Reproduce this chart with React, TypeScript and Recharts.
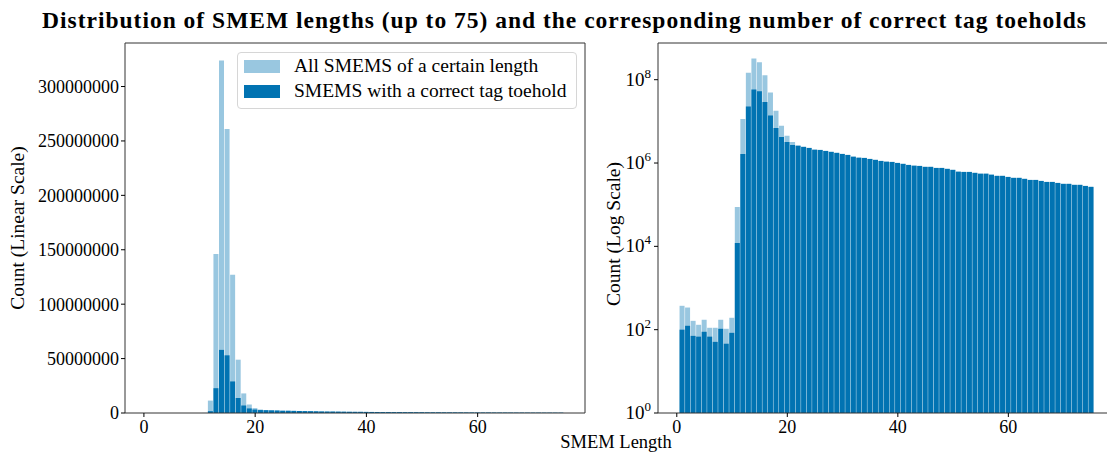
import React from "react";
import { ComposedChart, Bar, XAxis, YAxis, Legend } from "recharts";

// SMEM length (x)
const smemLengths = [
  1, 2, 3, 4, 5, 6, 7, 8, 9, 10, 11, 12, 13, 14, 15, 16, 17, 18, 19, 20,
  21, 22, 23, 24, 25, 26, 27, 28, 29, 30, 31, 32, 33, 34, 35, 36, 37, 38, 39, 40,
  41, 42, 43, 44, 45, 46, 47, 48, 49, 50, 51, 52, 53, 54, 55, 56, 57, 58, 59, 60,
  61, 62, 63, 64, 65, 66, 67, 68, 69, 70, 71, 72, 73, 74, 75,
];

// all SMEMs of a given length
const allSmems = [
  374, 340, 163, 131, 173, 111, 111, 173, 105, 193,
  88500, 11400000, 146000000, 324000000, 261000000, 127000000, 49000000, 18000000, 7800000, 4500000,
  3200000, 2700000, 2480000, 2340000, 2180000, 2090000, 1980000, 1880000, 1780000, 1680000,
  1590000, 1480000, 1400000, 1340000, 1270000, 1210000, 1140000, 1120000, 1080000, 1020000,
  970000, 915000, 900000, 865000, 820000, 820000, 775000, 775000, 735000, 695000,
  645000, 620000, 620000, 590000, 560000, 560000, 530000, 500000, 500000, 470000,
  450000, 450000, 423000, 398000, 398000, 377000, 357000, 357000, 337000, 321000,
  321000, 304000, 304000, 286000, 272000,
];

// SMEMs with a correct tag toehold
const tagToehold = [
  100, 124, 71, 68, 89, 68, 51, 105, 46, 84,
  12100, 1650000, 22800000, 58000000, 53000000, 29000000, 13800000, 6900000, 4200000, 3200000,
  2700000, 2570000, 2430000, 2300000, 2060000, 2060000, 1950000, 1850000, 1750000, 1650000,
  1560000, 1400000, 1320000, 1320000, 1250000, 1190000, 1120000, 1060000, 1060000, 1000000,
  950000, 900000, 850000, 850000, 805000, 805000, 760000, 760000, 720000, 680000,
  610000, 610000, 610000, 580000, 550000, 550000, 520000, 490000, 490000, 460000,
  440000, 440000, 415000, 390000, 390000, 370000, 350000, 350000, 330000, 315000,
  315000, 298000, 298000, 280000, 267000,
];

const xTicks = [0, 20, 40, 60];
const linearTicks = [0, 50000000, 100000000, 150000000, 200000000, 250000000, 300000000];
const logTicks = [1, 100, 10000, 1000000, 100000000];

const LIGHT = "#99c7e0";
const DARK = "#0173b2";
const SPINE = "#333";
const FONT = "'Liberation Serif', 'Times New Roman', serif";

const data = smemLengths.map((len, i) => ({ len, all: allSmems[i], tag: tagToehold[i] }));

const X_DOMAIN: [number, number] = [-3.4, 79.3];

const tickStyle = { fill: "#000", fontSize: 18, fontFamily: FONT };

const LogTick = (props: any) => {
  const { x, y, payload } = props;
  const exp = Math.round(Math.log10(payload.value));
  return (
    <text x={x} y={y} dy={6} textAnchor="end" fontFamily={FONT} fontSize={19} fill="#000">
      10
      <tspan dy={-8} fontSize={13}>
        {exp}
      </tspan>
    </text>
  );
};

const legendItems = [
  { name: "All SMEMS of a certain length", color: LIGHT },
  { name: "SMEMS with a correct tag toehold", color: DARK },
];

const renderLegend = () => (
  <div
    style={{
      position: "relative",
      width: 340,
      height: 57,
      boxSizing: "border-box",
      border: "1px solid #d6d6d6",
      borderRadius: 4,
      background: "rgba(255,255,255,0.8)",
      fontFamily: FONT,
      fontSize: 19.5,
      color: "#000",
    }}
  >
    {legendItems.map((d, i) => (
      <div key={d.name}>
        <div
          style={{
            position: "absolute",
            left: 6,
            top: 7 + i * 25,
            width: 36,
            height: 13,
            background: d.color,
          }}
        />
        <div
          style={{
            position: "absolute",
            left: 56,
            top: 2 + i * 25,
            lineHeight: "22px",
            whiteSpace: "nowrap",
          }}
        >
          {d.name}
        </div>
      </div>
    ))}
  </div>
);

export default function App() {
  return (
    <div
      style={{
        position: "absolute",
        left: 0,
        top: 0,
        width: 1107,
        height: 453,
        overflow: "hidden",
        background: "#fff",
      }}
    >
      {/* linear scale */}
      <div style={{ position: "absolute", left: 0, top: 0 }}>
        <ComposedChart
          width={600}
          height={453}
          data={data}
          margin={{ top: 42, right: 14, bottom: 10, left: 0 }}
        >
          <XAxis
            xAxisId="top"
            orientation="top"
            type="number"
            dataKey="len"
            domain={X_DOMAIN}
            allowDataOverflow
            height={1}
            tick={false}
            tickLine={false}
            axisLine={{ stroke: SPINE }}
          />
          <XAxis
            xAxisId="bottom"
            type="number"
            dataKey="len"
            domain={X_DOMAIN}
            allowDataOverflow
            ticks={xTicks}
            interval={0}
            height={30}
            tickSize={4}
            tickMargin={3}
            tick={tickStyle}
            tickLine={{ stroke: "#000" }}
            axisLine={{ stroke: SPINE }}
          />
          <YAxis
            type="number"
            domain={[0, 340000000]}
            allowDataOverflow
            ticks={linearTicks}
            interval={0}
            width={125}
            tickSize={4}
            tickMargin={2}
            tick={tickStyle}
            tickLine={{ stroke: "#000" }}
            axisLine={{ stroke: SPINE }}
          />
          <YAxis
            yAxisId="right"
            orientation="right"
            domain={[0, 1]}
            width={1}
            tick={false}
            tickLine={false}
            axisLine={{ stroke: SPINE }}
          />
          <Bar xAxisId="top" dataKey="all" fill={LIGHT} barSize={5} isAnimationActive={false} />
          <Bar xAxisId="bottom" dataKey="tag" fill={DARK} barSize={5} isAnimationActive={false} />
          <Legend
            content={renderLegend}
            layout="horizontal"
            verticalAlign="middle"
            align="center"
            wrapperStyle={{ top: 52, left: 237, width: 340 }}
          />
        </ComposedChart>
      </div>

      {/* log scale */}
      <div style={{ position: "absolute", left: 560, top: 0 }}>
        <ComposedChart
          width={560}
          height={453}
          data={data}
          margin={{ top: 42, right: 5, bottom: 10, left: 0 }}
        >
          <XAxis
            xAxisId="top"
            orientation="top"
            type="number"
            dataKey="len"
            domain={X_DOMAIN}
            allowDataOverflow
            height={1}
            tick={false}
            tickLine={false}
            axisLine={{ stroke: SPINE }}
          />
          <XAxis
            xAxisId="bottom"
            type="number"
            dataKey="len"
            domain={X_DOMAIN}
            allowDataOverflow
            ticks={xTicks}
            interval={0}
            height={30}
            tickSize={4}
            tickMargin={3}
            tick={tickStyle}
            tickLine={{ stroke: "#000" }}
            axisLine={{ stroke: SPINE }}
          />
          <YAxis
            type="number"
            scale="log"
            domain={[1, 760000000]}
            allowDataOverflow
            ticks={logTicks}
            interval={0}
            width={98}
            tickSize={4}
            tickMargin={3}
            tick={<LogTick />}
            tickLine={{ stroke: "#000" }}
            axisLine={{ stroke: SPINE }}
          />
          <Bar xAxisId="top" dataKey="all" fill={LIGHT} barSize={5} isAnimationActive={false} />
          <Bar xAxisId="bottom" dataKey="tag" fill={DARK} barSize={5} isAnimationActive={false} />
        </ComposedChart>
      </div>

      {/* figure texts */}
      <svg
        width={1107}
        height={453}
        style={{ position: "absolute", left: 0, top: 0, pointerEvents: "none" }}
        fontFamily={FONT}
      >
        <text x={564} y={28} textAnchor="middle" fontSize={23.5} fontWeight="bold" textLength={1044} lengthAdjust="spacing">
          Distribution of SMEM lengths (up to 75) and the corresponding number of correct tag toeholds
        </text>
        <text x={616} y={448} textAnchor="middle" fontSize={18.5}>
          SMEM Length
        </text>
        <text transform="translate(24,228) rotate(-90)" textAnchor="middle" fontSize={19.5}>
          Count (Linear Scale)
        </text>
        <text transform="translate(620,234) rotate(-90)" textAnchor="middle" fontSize={19.5}>
          Count (Log Scale)
        </text>
      </svg>
    </div>
  );
}
